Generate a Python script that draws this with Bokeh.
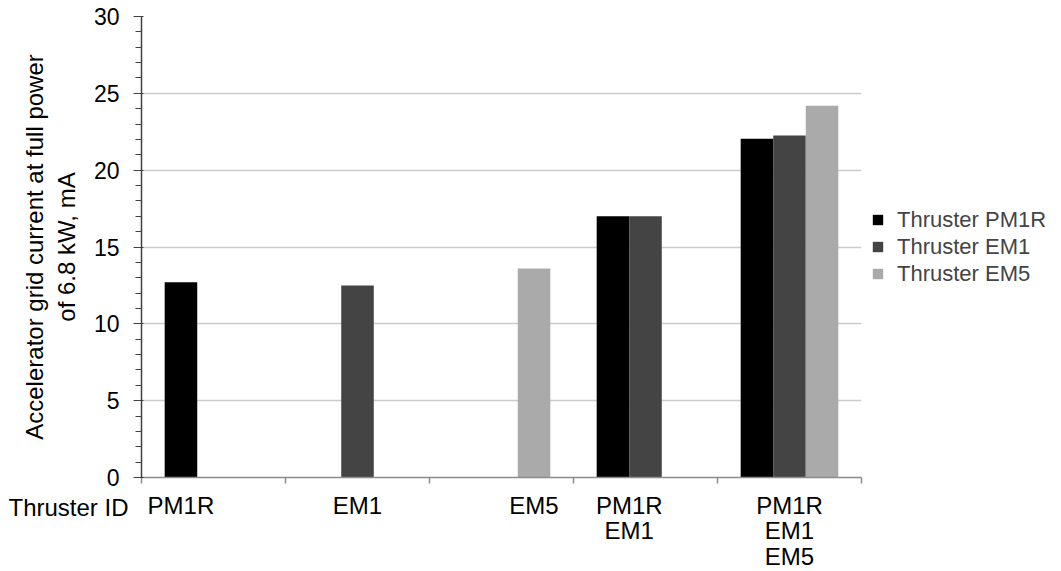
from bokeh.plotting import figure
from bokeh.models import (Range1d, FixedTicker, SingleIntervalTicker, LinearAxis,
                          Legend, LegendItem, Title, ColumnDataSource)
from bokeh.embed import file_html
from bokeh.resources import INLINE

# ---- data ----
categories = ["PM1R", "EM1", "EM5", "PM1R\nEM1", "PM1R\nEM1\nEM5"]
series_names = ["Thruster PM1R", "Thruster EM1", "Thruster EM5"]
pm1r = [12.7, 0, 0, 17.0, 22.05]
em1 = [0, 12.5, 0, 17.0, 22.25]
em5 = [0, 0, 13.6, 0, 24.2]
colors = ["#000000", "#444444", "#aaaaaa"]
y_ticks = [0, 5, 10, 15, 20, 25, 30]
row_title = "Thruster ID"

FONT = "Liberation Sans"
series = [pm1r, em1, em5]
n = len(categories)
bw = 0.226
offsets = [-bw, 0.0, bw]

p = figure(frame_width=720, frame_height=461, output_backend="svg", toolbar_location=None,
           x_range=Range1d(-0.5, n - 0.5), y_range=Range1d(0, 30),
           min_border_left=141, min_border_top=16, min_border_right=0, min_border_bottom=92,
           x_axis_location=None, y_axis_location=None)
p.outline_line_color = None
p.xgrid.visible = False
p.ygrid.grid_line_color = "#cccccc"
p.ygrid.grid_line_width = 1.5
p.ygrid.ticker = FixedTicker(ticks=y_ticks)

items = []
for s, vals, col, off in zip(series_names, series, colors, offsets):
    xs = [i + off for i in range(n)]
    src = ColumnDataSource(dict(x=xs, top=vals))
    r = p.vbar(x="x", top="top", width=bw, source=src, fill_color=col, line_color=None)
    items.append(LegendItem(label=s, renderers=[r]))

# y axis
yax = LinearAxis(ticker=SingleIntervalTicker(interval=5, num_minor_ticks=5))
yax.axis_line_color = "#404040"
yax.axis_line_width = 1.5
yax.major_tick_line_color = "#404040"
yax.minor_tick_line_color = "#404040"
yax.major_tick_out = 8
yax.major_tick_in = 2
yax.minor_tick_out = 6
yax.minor_tick_in = 0
yax.major_label_standoff = 14
yax.major_label_text_font = FONT
yax.major_label_text_font_size = "23px"
yax.major_label_text_color = "#000000"
yax.axis_label = "Accelerator grid current at full power\nof 6.8 kW, mA"
yax.axis_label_text_font = FONT
yax.axis_label_text_font_size = "24px"
yax.axis_label_text_font_style = "normal"
yax.axis_label_text_color = "#000000"
yax.axis_label_standoff = 11
p.add_layout(yax, "left")

# x axis with ticks at category boundaries
bounds = [i - 0.5 for i in range(n + 1)]
xax = LinearAxis(ticker=FixedTicker(ticks=bounds))
xax.axis_line_color = "#8c8c8c"
xax.axis_line_width = 1.5
xax.major_tick_line_color = "#8c8c8c"
xax.major_tick_line_width = 1.5
xax.major_tick_out = 6
xax.major_tick_in = 0
xax.minor_tick_line_color = None
xax.major_label_text_font_size = "0px"
xax.major_label_standoff = 0
p.add_layout(xax, "below")

# row title to the left of the category labels
p.add_layout(Title(text=row_title, align="left", vertical_align="top", offset=-133,
                   standoff=20, text_font=FONT, text_font_size="24px",
                   text_font_style="normal", text_color="#000000"), "below")

# category label axis: labels centred on the bars present in each category
label_pos = []
for i in range(n):
    offs = [off for vals, off in zip(series, offsets) if vals[i] > 0]
    label_pos.append(round(i + sum(offs) / len(offs), 4))
lax = LinearAxis(ticker=FixedTicker(ticks=label_pos))
lax.axis_line_color = None
lax.major_tick_line_color = None
lax.minor_tick_line_color = None
lax.major_tick_out = 0
lax.major_tick_in = 0
lax.major_label_standoff = -41
lax.major_label_text_font = FONT
lax.major_label_text_font_size = "24px"
lax.major_label_text_color = "#000000"
lax.major_label_text_line_height = 0.95
lax.major_label_overrides = {pos: lab for pos, lab in zip(label_pos, categories)}
p.add_layout(lax, "below")

legend = Legend(items=items, location="center_left", border_line_color=None,
                background_fill_alpha=0, glyph_width=13, glyph_height=13,
                label_standoff=13, label_text_font=FONT, label_text_font_size="22px",
                label_height=23, spacing=1, padding=0, margin=10)
p.add_layout(legend, "right")

open("out.html", "w").write(file_html(p, INLINE))
